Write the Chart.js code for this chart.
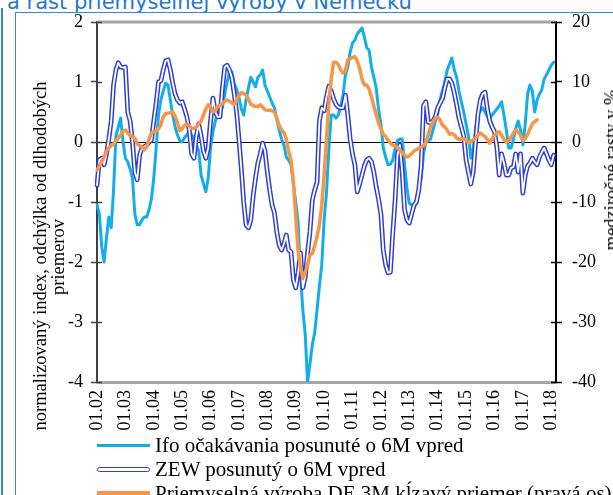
<!DOCTYPE html>
<html>
<head>
<meta charset="utf-8">
<script src="https://cdn.jsdelivr.net/npm/chart.js@4"></script>
<style>
  html, body { margin: 0; padding: 0; background: #fff; }
  body { width: 613px; height: 495px; overflow: hidden; position: relative; font-family: "Liberation Serif", serif; }
  #title { position: absolute; left: 7px; top: -8px; font-family: "DejaVu Sans", sans-serif; font-size: 21px; line-height: 21px; color: #1f78d1; white-space: nowrap; }
  #outer { position: absolute; left: 1px; top: 8px; width: 0; height: 500px; border-left: 2px solid #3b86d3; }
  #frame { position: absolute; left: 15px; top: 12px; width: 700px; height: 600px; border: 1.5px solid #3b86d3; }
  #chart { position: absolute; left: 0; top: 0; }
  .axis-title { position: absolute; font-size: 18.5px; line-height: 20px; white-space: nowrap; color: #000; transform: translate(-50%, -50%) rotate(-90deg); }
  #legend { position: absolute; left: 97px; top: 433px; font-size: 21px; color: #000; }
  .row { height: 24px; display: flex; align-items: center; white-space: nowrap; }
  .swatch { display: inline-block; width: 53px; margin-right: 5px; box-sizing: border-box; }
  .sw-ifo { height: 3px; background: #13aee9; }
  .sw-zew { height: 5px; background: #fff; border: 1.5px solid #2f3fd0; border-radius: 3px; }
  .sw-prod { height: 5px; background: #f79646; }
</style>
</head>
<body>
<div id="title">a rast priemyselnej výroby v Nemecku</div>
<div id="outer"></div>
<div id="frame"></div>
<canvas id="chart" width="613" height="495"></canvas>
<div class="axis-title" style="left:40px; top:256px;">normalizovaný index, odchýlka od dlhodobých</div>
<div class="axis-title" style="left:58px; top:257px;">priemerov</div>
<div class="axis-title" style="left:611px; top:170px;">medziročné rasty v %</div>
<div id="legend">
  <div class="row"><span class="swatch sw-ifo"></span>Ifo očakávania posunuté o 6M vpred</div>
  <div class="row"><span class="swatch sw-zew"></span>ZEW posunutý o 6M vpred</div>
  <div class="row"><span class="swatch sw-prod"></span>Priemyselná výroba DE 3M kĺzavý priemer (pravá os)</div>
</div>
<script>
// months from 01.2002, yearly tick labels
const yearLabels = ["01.02", "01.03", "01.04", "01.05", "01.06", "01.07", "01.08", "01.09",
  "01.10", "01.11", "01.12", "01.13", "01.14", "01.15", "01.16", "01.17", "01.18"];
const monthCount = 195;

// Ifo expectations, shifted 6M ahead (left axis)
const ifoValues = [
  -1.05, -1.2, -1.75, -2.0, -1.6, -1.25, -1.43, -0.8, 0.1, 0.25, 0.4, 0.0,
  -0.27, -0.33, -0.45, -0.6, -1.2, -1.38, -1.38, -1.3, -1.25, -1.25, -1.13, -0.95,
  -0.6, -0.1, 0.45, 0.7, 0.85, 0.98, 0.95, 0.7, 0.45, 0.25, 0.12, 0.02,
  0.0, 0.07, 0.12, 0.17, 0.12, 0.05, -0.05, -0.15, -0.55, -0.7, -0.83, -0.6,
  -0.1, 0.17, 0.35, 0.5, 0.62, 0.57, 0.8, 1.0, 1.17, 1.17, 0.98, 0.88,
  0.75, 0.55, 0.45, 0.7, 0.9, 1.08, 1.0, 0.92, 1.08, 1.12, 1.2, 0.95,
  0.85, 0.75, 0.65, 0.57, 0.38, 0.2, 0.05, -0.05, -0.25, -0.3, -0.38, -0.7,
  -1.0, -1.35, -2.2, -2.8, -3.2, -4.0, -3.7, -3.38, -3.18, -2.8, -2.4, -2.05,
  -1.3, -0.85, -0.1, 0.45, 0.45, 0.4, 0.45, 0.6, 0.78, 1.12, 1.25, 1.5,
  1.65, 1.7, 1.8, 1.85, 1.9, 1.75, 1.57, 1.53, 1.25, 1.08, 0.9, 0.55,
  0.3, -0.1, -0.25, -0.38, -0.37, -0.3, -0.1, 0.02, 0.05, 0.05, -0.38, -0.77,
  -1.02, -1.05, -1.1, -1.02, -0.8, -0.6, -0.2, 0.0, 0.02, 0.05, 0.2, 0.35,
  0.47, 0.7, 0.85, 1.0, 1.2, 1.3, 1.4, 1.2, 1.08, 0.85, 0.67, 0.5,
  0.3, 0.1, -0.27, -0.1, 0.2, 0.45, 0.52, 0.57, 0.5, 0.42, 0.4, 0.45,
  0.5, 0.55, 0.6, 0.67, 0.45, 0.2, -0.1, -0.1, 0.05, 0.23, 0.35, 0.2,
  -0.05, 0.3, 0.8, 0.95, 0.85, 0.5, 0.7, 0.8, 0.87, 1.05, 1.12, 1.2,
  1.28, 1.33
];

// ZEW, shifted 6M ahead (left axis)
const zewValues = [
  -0.72, -0.3, -0.27, -0.38, -0.2, 0.05, 0.35, 0.95, 1.2, 1.32, 1.25, 1.24,
  1.25, 0.5, 0.35, 0.0, -0.5, -0.63, -0.22, -0.1, -0.08, -0.05, 0.0, 0.03,
  0.35, 0.65, 1.0, 1.02, 1.2, 1.35, 1.37, 1.2, 0.98, 0.8, 0.7, 0.65,
  0.67, 0.55, 0.42, 0.2, -0.2, -0.27, 0.1, 0.3, 0.1, -0.15, -0.27, -0.1,
  0.35, 0.73, 0.5, 0.42, 0.42, 0.9, 1.25, 1.28, 1.2, 1.07, 0.8, 0.5,
  0.05, -0.45, -1.0, -1.38, -1.43, -1.3, -0.9, -0.6, -0.35, -0.2, -0.02, -0.15,
  -0.5, -0.8, -1.05, -1.18, -1.5, -1.72, -1.8, -1.7, -1.55, -1.8, -1.83, -2.3,
  -2.43, -2.18, -1.85, -2.43, -2.25, -1.85, -1.5, -0.97, -0.8, -0.67, 0.35, 0.57,
  0.52, 0.75, 0.93, 0.85, 0.72, 0.63, 0.58, 0.57, 0.57, 0.78, 0.45, 0.05,
  -0.2, -0.38, -0.83, -0.7, -0.55, -0.4, -0.3, -0.27, -0.33, -0.5, -0.75, -0.95,
  -1.2, -1.8, -2.05, -2.18, -2.17, -1.52, -0.97, -0.22, -0.05, -0.5, -1.13, -1.3,
  -1.35, -1.2, -1.05, -1.0, -0.8, -0.4, 0.6, 0.67, 0.33, 0.32, 0.35, 0.42,
  0.57, 0.65, 0.72, 0.9, 1.05, 1.05, 0.98, 0.82, 0.62, 0.4, 0.25, 0.1,
  -0.3, -0.5, -0.7, -0.5, 0.0, 0.45, 0.7, 0.8, 0.83, 0.55, 0.35, 0.25,
  0.17, -0.08, -0.55, -0.2, -0.35, -0.55, -0.55, -0.43, -0.42, -0.2, -0.5, -0.2,
  -0.85, -0.55, -0.4, -0.35, -0.27, -0.33, -0.38, -0.25, -0.17, -0.1, -0.2, -0.3,
  -0.38, -0.22
];

// industrial production DE, 3M moving average, y/y % (right axis)
const productionValues = [
  -4.7, -4.0, -3.3, -2.5, -1.5, -1.0, -0.6, -0.3, 0.2, 0.6, 1.2, 1.8,
  2.0, 1.5, 1.1, 0.9, 0.6, -0.3, -0.6, -0.8, -1.3, -0.8, 0.5, 1.5,
  1.7, 1.8, 2.2, 2.9, 4.2, 4.7, 4.8, 4.9, 5.0, 4.3, 3.2, 1.9,
  2.2, 2.8, 3.0, 2.7, 2.3, 2.3, 2.5, 3.0, 3.5, 4.5, 5.5, 6.2,
  5.9, 5.0, 5.2, 5.9, 6.1, 6.4, 6.8, 7.0, 6.8, 6.5, 6.3, 7.0,
  7.8, 8.2, 8.1, 7.8, 7.2, 6.3, 6.1, 5.9, 5.9, 6.2, 5.8, 5.4,
  5.3, 5.3, 5.2, 5.0, 4.0, 2.8, 2.0, 1.6, 0.5, -1.5, -3.0, -6.5,
  -12.5, -18, -21, -22.7, -21.7, -20.5, -18.8, -18.6, -17.3, -15.8, -13.8, -10.5,
  -5.5, 0.5, 6.5, 10.5, 13.3, 13.3, 12.9, 12.0, 11.5, 11.8, 13.7, 13.9,
  14.1, 14.2, 13.5, 12.3, 10.5, 9.5, 9.5, 8.8, 7.5, 6.0, 4.6, 3.2,
  2.2, 1.3, 0.9, 0.3, -0.2, -0.5, -0.7, -0.9, -1.3, -1.8, -2.2, -2.5,
  -2.3, -1.9, -1.5, -1.3, -1.0, -0.9, -0.6, -0.1, 1.2, 2.6, 3.3, 4.0,
  4.1, 3.7, 2.8, 2.5, 2.0, 1.3, 1.4, 1.2, 0.7, 0.4, 0.5, 0.6,
  0.3, -0.1, 0.0, 0.4, 0.7, 1.2, 1.5, 1.2, 0.9, 0.4, -0.2, 0.6,
  1.1, 1.5, 1.7, 1.1, 0.4, 0.0, 0.2, 0.8, 1.5, 2.0, 1.7, 1.1,
  0.3, 0.6, 1.2, 2.2, 3.0, 3.4, 3.7
];

const labels = [];
for (let i = 0; i < monthCount; i++) {
    labels.push(i % 12 === 0 ? yearLabels[i / 12] : "");
}

const tickFont = { family: "Liberation Serif", size: 18 };

// grey top frame line + inner halves of the cross ticks
const framePlugin = {
    id: "frame",
    beforeDatasetsDraw(chart) {
        const { ctx, chartArea: a, scales } = chart;
        ctx.save();
        ctx.strokeStyle = "#a6a6a6";
        ctx.lineWidth = 3;
        ctx.beginPath();
        ctx.moveTo(a.left, a.top);
        ctx.lineTo(a.right, a.top);
        ctx.stroke();

        ctx.lineWidth = 1.5;
        ctx.strokeStyle = "#404040";
        scales.y.ticks.forEach(t => {
            const py = Math.round(scales.y.getPixelForValue(t.value)) + 0.5;
            ctx.beginPath();
            ctx.moveTo(a.left, py);
            ctx.lineTo(a.left + 5, py);
            ctx.stroke();
        });
        ctx.strokeStyle = "#000";
        scales.y1.ticks.forEach(t => {
            const py = Math.round(scales.y1.getPixelForValue(t.value)) + 0.5;
            ctx.beginPath();
            ctx.moveTo(a.right - 5, py);
            ctx.lineTo(a.right, py);
            ctx.stroke();
        });
        ctx.restore();
    }
};

new Chart(document.getElementById("chart"), {
    type: "line",
    data: {
        labels: labels,
        datasets: [
            {
                label: "Priemyselná výroba DE 3M kĺzavý priemer (pravá os)",
                data: productionValues,
                yAxisID: "y1",
                borderColor: "#f79646",
                borderWidth: 3.5,
                order: 0
            },
            {
                label: "ZEW inner",
                data: zewValues,
                yAxisID: "y",
                borderColor: "#ffffff",
                borderWidth: 1.8,
                order: 1
            },
            {
                label: "ZEW posunutý o 6M vpred",
                data: zewValues,
                yAxisID: "y",
                borderColor: "#2f3fd0",
                borderWidth: 4.8,
                order: 2
            },
            {
                label: "Ifo očakávania posunuté o 6M vpred",
                data: ifoValues,
                yAxisID: "y",
                borderColor: "#13aee9",
                borderWidth: 3,
                order: 3
            }
        ]
    },
    options: {
        responsive: false,
        animation: false,
        elements: {
            point: { radius: 0 },
            line: { tension: 0, borderJoinStyle: "round", borderCapStyle: "round" }
        },
        layout: { padding: { top: 22, left: 0, right: 0, bottom: 0 } },
        plugins: {
            legend: { display: false },
            tooltip: { enabled: false }
        },
        scales: {
            x: {
                type: "category",
                grid: { display: false, drawTicks: false },
                border: { color: "#a6a6a6", width: 3 },
                ticks: {
                    autoSkip: false,
                    maxRotation: 90,
                    minRotation: 90,
                    padding: 8,
                    color: "#000",
                    font: tickFont
                },
                afterFit: s => { s.height = 113; }
            },
            y: {
                position: "left",
                min: -4,
                max: 2,
                ticks: { stepSize: 1, padding: 8, color: "#000", font: tickFont },
                grid: {
                    drawOnChartArea: true,
                    color: c => (c.tick && c.tick.value === 0 ? "#000" : "rgba(0,0,0,0)"),
                    lineWidth: 1,
                    tickColor: "#404040",
                    tickWidth: 1.5,
                    tickLength: 6
                },
                border: { color: "#404040", width: 2 },
                afterFit: s => { s.width = 97; }
            },
            y1: {
                position: "right",
                min: -40,
                max: 20,
                ticks: { stepSize: 10, padding: 10, color: "#000", font: tickFont },
                grid: {
                    drawOnChartArea: false,
                    tickColor: "#000",
                    tickWidth: 1.5,
                    tickLength: 6
                },
                border: { color: "#000", width: 2 },
                afterFit: s => { s.width = 57; }
            }
        }
    },
    plugins: [framePlugin]
});
</script>
</body>
</html>
